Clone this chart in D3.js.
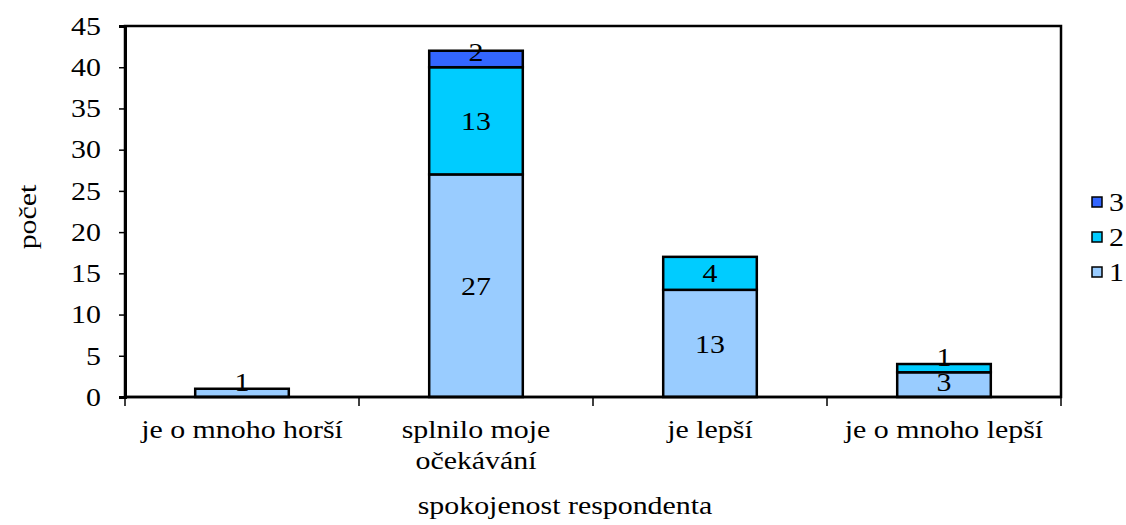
<!DOCTYPE html>
<meta charset="utf-8">
<style>
    body { margin: 0; background: white; }
    text { font-family: "Liberation Serif", "Times New Roman", serif; fill: #000; }
</style>
<svg width="1126" height="525"></svg>
<script src="https://d3js.org/d3.v7.min.js"></script>
<script>
    // hodnoty
    var categories = ["je o mnoho horší", "splnilo moje očekávání", "je lepší", "je o mnoho lepší"];
    var categoryLines = [["je o mnoho horší"], ["splnilo moje", "očekávání"], ["je lepší"], ["je o mnoho lepší"]];
    var seriesNames = ["1", "2", "3"];
    var series1 = [1, 27, 13, 3];
    var series2 = [0, 13, 4, 1];
    var series3 = [0, 2, 0, 0];
    var yTicks = [0, 5, 10, 15, 20, 25, 30, 35, 40, 45];
    var colors = ["#99ccff", "#00ccff", "#3366ff"];

    var fs = "26px",
        sx = 1.15; // text v předloze je trochu roztažený do šířky

    function place(px, py) {
        return "translate(" + px + "," + py + ") scale(" + sx + ",1)";
    }

    var svg = d3.select("svg"),
        margin = {left: 125, top: 26, right: 65, bottom: 128},
        width = 1126 - margin.left - margin.right,
        height = 525 - margin.top - margin.bottom;

    var x = d3.scaleBand().domain(categories).range([0, width]).paddingInner(0.6).paddingOuter(0.3);
    var xb = d3.scaleBand().domain(categories).range([0, width]);
    var y = d3.scaleLinear().domain([0, 45]).range([height, 0]);

    var g = svg.append("g").attr("transform", "translate(" + margin.left + "," + margin.top + ")");

    var rows = categories.map(function(c, i) {
        return {cat: c, "1": series1[i], "2": series2[i], "3": series3[i]};
    });
    var stacked = d3.stack().keys(seriesNames)(rows);

    var layer = g.selectAll(".layer")
        .data(stacked)
        .enter().append("g")
        .attr("class", "layer")
        .style("fill", function(d, i) { return colors[i]; });

    layer.selectAll("rect")
        .data(function(d) { return d.filter(function(p) { return p[1] - p[0] > 0; }); })
        .enter().append("rect")
        .attr("x", function(d) { return x(d.data.cat); })
        .attr("y", function(d) { return y(d[1]); })
        .attr("width", x.bandwidth())
        .attr("height", function(d) { return y(d[0]) - y(d[1]); })
        .style("stroke", "#000")
        .style("stroke-width", 2.5);

    // popisky malých úseků vylézají nahoru jako v předloze
    layer.selectAll("text")
        .data(function(d) { return d.filter(function(p) { return p[1] - p[0] > 0; }); })
        .enter().append("text")
        .attr("transform", function(d) {
            var cy = Math.min((y(d[0]) + y(d[1])) / 2, y(d[0]) - 15);
            return place(x(d.data.cat) + x.bandwidth() / 2, cy);
        })
        .attr("dy", "0.35em")
        .attr("text-anchor", "middle")
        .style("font-size", fs)
        .style("fill", "#000")
        .text(function(d) { return d[1] - d[0]; });

    // rám grafu
    g.append("rect")
        .attr("width", width)
        .attr("height", height)
        .style("fill", "none")
        .style("stroke", "#000")
        .style("stroke-width", 2.5);

    // osa y
    var yAxis = g.append("g")
        .call(d3.axisLeft(y).tickValues(yTicks).tickSize(6).tickPadding(18));
    yAxis.select(".domain").style("stroke-width", 3);
    yAxis.selectAll(".tick line").style("stroke-width", 1.5);
    yAxis.selectAll("text")
        .attr("x", 0)
        .attr("transform", place(-24, 0))
        .style("font-size", fs)
        .style("font-family", "Liberation Serif");

    // osa x - čárky na hranicích kategorií
    var xAxis = g.append("g").attr("transform", "translate(0," + height + ")");
    xAxis.append("line").attr("x1", 0).attr("x2", width).style("stroke", "#000").style("stroke-width", 2.5);
    xAxis.selectAll(".xt")
        .data(d3.range(categories.length + 1))
        .enter().append("line")
        .attr("x1", function(i) { return i * xb.step(); })
        .attr("x2", function(i) { return i * xb.step(); })
        .attr("y1", 0)
        .attr("y2", 9)
        .style("stroke", "#000")
        .style("stroke-width", 1.5);

    xAxis.selectAll(".xl")
        .data(categories)
        .enter().append("text")
        .attr("text-anchor", "middle")
        .style("font-size", fs)
        .attr("transform", function(d) { return place(xb(d) + xb.bandwidth() / 2, 41); })
        .each(function(d, i) {
            var t = d3.select(this);
            categoryLines[i].forEach(function(line, j) {
                t.append("tspan").attr("x", 0).attr("y", j * 31).text(line);
            });
        });

    svg.append("text")
        .attr("transform", place(565, 514))
        .attr("text-anchor", "middle")
        .style("font-size", fs)
        .text("spokojenost respondenta");

    svg.append("text")
        .attr("transform", "translate(36,217) rotate(-90) scale(" + sx + ",1)")
        .attr("text-anchor", "middle")
        .style("font-size", fs)
        .text("počet");

    // legenda
    var legend = svg.append("g").attr("transform", "translate(1092,197)");
    var legendItems = legend.selectAll("g")
        .data(seriesNames.slice().reverse())
        .enter().append("g")
        .attr("transform", function(d, i) { return "translate(0," + i * 35 + ")"; });
    legendItems.append("rect")
        .attr("width", 10)
        .attr("height", 10)
        .style("fill", function(d) { return colors[seriesNames.indexOf(d)]; })
        .style("stroke", "#000")
        .style("stroke-width", 1.5);
    legendItems.append("text")
        .attr("transform", place(17, 5))
        .attr("dy", "0.35em")
        .style("font-size", fs)
        .text(function(d) { return d; });
</script>
